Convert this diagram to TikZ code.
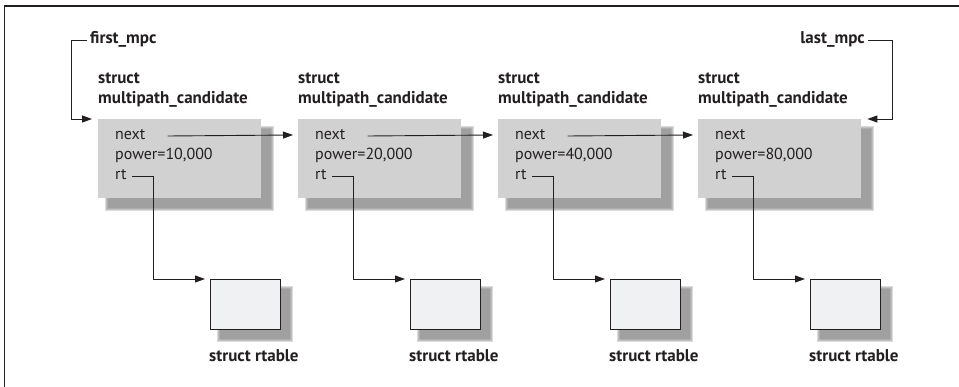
\documentclass[tikz,border=0pt]{standalone}
\usepackage{fontspec}
\setmainfont{PT Sans}
\usepackage{tikz}
\usetikzlibrary{arrows.meta,positioning,calc}
\definecolor{inkdark}{HTML}{231F20}
\definecolor{candgrey}{HTML}{D1D1D1}
\definecolor{tabfill}{HTML}{F0F1F3}
\definecolor{shadowgrey}{HTML}{7A7A7A}
\tikzset{
  candbox/.style={fill=candgrey,draw=none,anchor=north west,inner sep=0pt,
    minimum width=163pt,minimum height=79pt},
  tabbox/.style={fill=tabfill,draw=inkdark,line width=1pt,anchor=north west,
    inner sep=0pt,minimum width=70pt,minimum height=50pt},
  fieldtext/.style={text=inkdark,font=\fontsize{16}{18}\selectfont,anchor=west,inner sep=0pt},
  titletext/.style={text=inkdark,font=\fontsize{17}{20}\selectfont\bfseries,inner sep=0pt,align=left},
  link/.style={draw=inkdark,line width=0.9pt,-{Triangle[length=10pt,width=7pt]}},
}
% soft drop shadow behind a box given by its two corners
\newcommand{\softshade}[2]{%
  \foreach \b in {0,1,2,3}
    \fill[shadowgrey,opacity=0.27] ($(#1)+(10-\b,10-\b)$) rectangle ($(#2)+(10+\b,10+\b)$);}
\newcommand{\candpanel}[3]{%
  \begin{scope}[xshift=#1]
    \softshade{98,119}{261,198}
    \node[candbox] (box#2) at (98,119) {};
    \node[fieldtext] (next#2) at (115,135) {next};
    \node[fieldtext] (pow#2)  at (115,155) {power=#3};
    \node[fieldtext] (rt#2)   at (115,175) {rt};
    \node[titletext,anchor=south west] (head#2) at (98,108) {struct\\multipath\_candidate};
    \softshade{210,279}{280,329}
    \node[tabbox] (tab#2) at (210,279) {};
    \node[titletext,anchor=north west] (tabname#2) at (209,349) {struct rtable};
    \draw[link] (rt#2.east) ++(5,1) -- ++(22,0) |- ([xshift=-5pt]tab#2.north west);
  \end{scope}}

\begin{document}
\begin{tikzpicture}[x=1pt,y=-1pt]
  \useasboundingbox (0,0) rectangle (959,387);
  \draw[inkdark,line width=1.2pt] (959,6) -- (4.5,6) -- (4.5,387);

  \candpanel{0pt}{1}{10,000}
  \candpanel{200pt}{2}{20,000}
  \candpanel{400pt}{3}{40,000}
  \candpanel{600pt}{4}{80,000}

  % next pointers
  \foreach \i/\j in {1/2,2/3,3/4}
    \draw[link] ([xshift=22pt,yshift=-1pt]next\i.east) -- ([xshift=-5pt]box\j.west |- next\i);

  % list heads
  \node[titletext,anchor=west] (firstmpc) at (90,39) {first\_mpc};
  \node[titletext,anchor=east] (lastmpc) at (865,39) {last\_mpc};
  \draw[link] ([xshift=-3pt,yshift=-1pt]firstmpc.west) -| ++(-16,79) -- ([xshift=-6pt]box1.north west);
  \draw[link] ([xshift=3pt,yshift=-1pt]lastmpc.east) -| ++(24,79) -- ([xshift=6pt]box4.north east);
\end{tikzpicture}
\end{document}
